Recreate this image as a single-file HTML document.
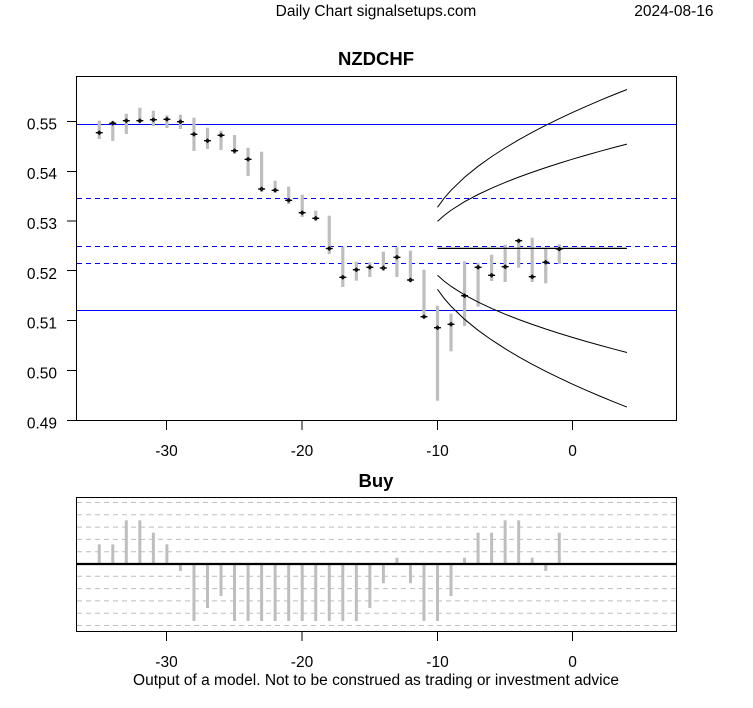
<!DOCTYPE html>
<html><head><meta charset="utf-8"><style>
html,body{margin:0;padding:0;background:#fff;}
svg{display:block;}
text{font-family:"Liberation Sans",Arial,sans-serif;fill:#000;}
</style></head><body>
<svg width="753" height="708" viewBox="0 0 753 708" xmlns="http://www.w3.org/2000/svg">
<defs>
<g id="m"><path d="M-3.5,0H3.5" stroke="#000" stroke-width="1.3"/><path d="M-1.8,0L0,-1.8L1.8,0L0,1.8Z" fill="none" stroke="#000" stroke-width="1"/></g>
</defs>
<rect width="753" height="708" fill="#fff"/>
<!-- header -->
<text x="376" y="16" font-size="15.5" text-anchor="middle">Daily Chart signalsetups.com</text>
<text x="713.5" y="16" font-size="15.5" text-anchor="end">2024-08-16</text>
<text x="376" y="65" font-size="18.5" font-weight="bold" text-anchor="middle">NZDCHF</text>

<!-- top chart reference lines -->
<g stroke="#0000ff" stroke-width="1" fill="none">
<line x1="77" y1="124.5" x2="676" y2="124.5"/>
<line x1="77" y1="310.5" x2="676" y2="310.5"/>
<line x1="77" y1="198.5" x2="676" y2="198.5" stroke-dasharray="5,4"/>
<line x1="77" y1="246.5" x2="676" y2="246.5" stroke-dasharray="5,4"/>
<line x1="77" y1="263.5" x2="676" y2="263.5" stroke-dasharray="5,4"/>
</g>

<!-- candles -->
<g stroke="#bebebe" stroke-width="3.2">
<line x1="99.25" y1="120.7" x2="99.25" y2="139"/>
<line x1="112.78" y1="120.7" x2="112.78" y2="141"/>
<line x1="126.31" y1="113.7" x2="126.31" y2="134"/>
<line x1="139.84" y1="107.7" x2="139.84" y2="123.3"/>
<line x1="153.37" y1="110.7" x2="153.37" y2="126"/>
<line x1="166.9" y1="115.3" x2="166.9" y2="128"/>
<line x1="180.43" y1="114.7" x2="180.43" y2="129"/>
<line x1="193.96" y1="117.7" x2="193.96" y2="151"/>
<line x1="207.49" y1="127.7" x2="207.49" y2="149"/>
<line x1="221.02" y1="130.7" x2="221.02" y2="150"/>
<line x1="234.55" y1="135" x2="234.55" y2="154"/>
<line x1="248.08" y1="147.7" x2="248.08" y2="176"/>
<line x1="261.61" y1="151.7" x2="261.61" y2="192"/>
<line x1="275.14" y1="180.7" x2="275.14" y2="192.7"/>
<line x1="288.67" y1="186.7" x2="288.67" y2="204"/>
<line x1="302.2" y1="194.7" x2="302.2" y2="217"/>
<line x1="315.73" y1="210.7" x2="315.73" y2="221"/>
<line x1="329.26" y1="215.7" x2="329.26" y2="254"/>
<line x1="342.79" y1="246.7" x2="342.79" y2="287"/>
<line x1="356.32" y1="261.7" x2="356.32" y2="280.7"/>
<line x1="369.85" y1="262.3" x2="369.85" y2="277"/>
<line x1="383.38" y1="251.7" x2="383.38" y2="271"/>
<line x1="396.91" y1="247.3" x2="396.91" y2="277"/>
<line x1="410.44" y1="250.7" x2="410.44" y2="282.3"/>
<line x1="423.97" y1="269.7" x2="423.97" y2="318.3"/>
<line x1="437.5" y1="305.7" x2="437.5" y2="400.7"/>
<line x1="451.03" y1="313.7" x2="451.03" y2="351.3"/>
<line x1="464.56" y1="261.3" x2="464.56" y2="326"/>
<line x1="478.09" y1="262.7" x2="478.09" y2="306.7"/>
<line x1="491.62" y1="254.7" x2="491.62" y2="281"/>
<line x1="505.15" y1="244.7" x2="505.15" y2="282"/>
<line x1="518.68" y1="240" x2="518.68" y2="267.7"/>
<line x1="532.21" y1="237.7" x2="532.21" y2="282"/>
<line x1="545.74" y1="248" x2="545.74" y2="283.3"/>
<line x1="559.27" y1="244.3" x2="559.27" y2="264"/>
</g>

<!-- markers -->
<g>
<use href="#m" x="99.25" y="132.7"/>
<use href="#m" x="112.78" y="123.3"/>
<use href="#m" x="126.31" y="120.7"/>
<use href="#m" x="139.84" y="120.7"/>
<use href="#m" x="153.37" y="119.7"/>
<use href="#m" x="166.9" y="119.3"/>
<use href="#m" x="180.43" y="121.7"/>
<use href="#m" x="193.96" y="134.3"/>
<use href="#m" x="207.49" y="140.7"/>
<use href="#m" x="221.02" y="135.3"/>
<use href="#m" x="234.55" y="150.7"/>
<use href="#m" x="248.08" y="159.3"/>
<use href="#m" x="261.61" y="189"/>
<use href="#m" x="275.14" y="190.3"/>
<use href="#m" x="288.67" y="200.3"/>
<use href="#m" x="302.2" y="212.7"/>
<use href="#m" x="315.73" y="218.3"/>
<use href="#m" x="329.26" y="248.5"/>
<use href="#m" x="342.79" y="277.3"/>
<use href="#m" x="356.32" y="269.7"/>
<use href="#m" x="369.85" y="267.3"/>
<use href="#m" x="383.38" y="268"/>
<use href="#m" x="396.91" y="257.3"/>
<use href="#m" x="410.44" y="280"/>
<use href="#m" x="423.97" y="316.7"/>
<use href="#m" x="437.5" y="327.7"/>
<use href="#m" x="451.03" y="324.3"/>
<use href="#m" x="464.56" y="295.7"/>
<use href="#m" x="478.09" y="267.3"/>
<use href="#m" x="491.62" y="275.3"/>
<use href="#m" x="505.15" y="266.7"/>
<use href="#m" x="518.68" y="240.7"/>
<use href="#m" x="532.21" y="276.7"/>
<use href="#m" x="545.74" y="262.3"/>
<use href="#m" x="559.27" y="249"/>
</g>

<!-- forecast -->
<line x1="437.5" y1="248.4" x2="626.9" y2="248.4" stroke="#000" stroke-width="1.3"/>
<g fill="none" stroke="#000" stroke-width="1">
<polyline points="437.5,207.3 444.27,198.09 451.03,190.32 464.56,177.28 478.09,166.3 491.62,156.62 505.15,147.87 518.68,139.82 532.21,132.34 545.74,125.3 559.27,118.65 572.8,112.32 586.33,106.27 599.86,100.47 613.39,94.89 626.92,89.51"/>
<polyline points="437.5,221.4 444.27,215.35 451.03,210.26 464.56,201.71 478.09,194.5 491.62,188.15 505.15,182.41 518.68,177.13 532.21,172.22 545.74,167.6 559.27,163.23 572.8,159.08 586.33,155.12 599.86,151.31 613.39,147.65 626.92,144.12"/>
<polyline points="437.5,275.2 444.27,281.25 451.03,286.34 464.56,294.89 478.09,302.1 491.62,308.45 505.15,314.19 518.68,319.47 532.21,324.38 545.74,329.0 559.27,333.37 572.8,337.52 586.33,341.48 599.86,345.29 613.39,348.95 626.92,352.48"/>
<polyline points="437.5,289.3 444.27,298.51 451.03,306.28 464.56,319.32 478.09,330.3 491.62,339.98 505.15,348.73 518.68,356.78 532.21,364.26 545.74,371.3 559.27,377.95 572.8,384.28 586.33,390.33 599.86,396.13 613.39,401.71 626.92,407.09"/>
</g>

<!-- top box & axes -->
<rect x="76.5" y="76.5" width="600" height="344" fill="none" stroke="#000" stroke-width="1"/>
<g stroke="#000" stroke-width="1">
<line x1="67" y1="121.5" x2="76" y2="121.5"/>
<line x1="67" y1="171.5" x2="76" y2="171.5"/>
<line x1="67" y1="221" x2="76" y2="221"/>
<line x1="67" y1="270.5" x2="76" y2="270.5"/>
<line x1="67" y1="320.5" x2="76" y2="320.5"/>
<line x1="67" y1="370.5" x2="76" y2="370.5"/>
<line x1="67" y1="420.5" x2="76" y2="420.5"/>
<line x1="166.5" y1="420" x2="166.5" y2="430"/>
<line x1="302" y1="420" x2="302" y2="430"/>
<line x1="437.5" y1="420" x2="437.5" y2="430"/>
<line x1="572.5" y1="420" x2="572.5" y2="430"/>
</g>
<g font-size="15.5" text-anchor="end">
<text x="57" y="129.3">0.55</text>
<text x="57" y="179.2">0.54</text>
<text x="57" y="229">0.53</text>
<text x="57" y="278.9">0.52</text>
<text x="57" y="328.7">0.51</text>
<text x="57" y="378.6">0.50</text>
<text x="57" y="428.4">0.49</text>
</g>
<g font-size="15.5" text-anchor="middle">
<text x="166.5" y="456">-30</text>
<text x="302" y="456">-20</text>
<text x="437.5" y="456">-10</text>
<text x="572.5" y="456">0</text>
</g>

<!-- bottom chart -->
<text x="376" y="487" font-size="18.5" font-weight="bold" text-anchor="middle">Buy</text>
<g stroke="#bebebe" stroke-width="1" stroke-dasharray="5,4">
<line x1="77" y1="502.5" x2="676" y2="502.5"/>
<line x1="77" y1="514.8" x2="676" y2="514.8"/>
<line x1="77" y1="527.1" x2="676" y2="527.1"/>
<line x1="77" y1="539.4" x2="676" y2="539.4"/>
<line x1="77" y1="551.7" x2="676" y2="551.7"/>
<line x1="77" y1="576.3" x2="676" y2="576.3"/>
<line x1="77" y1="588.6" x2="676" y2="588.6"/>
<line x1="77" y1="600.9" x2="676" y2="600.9"/>
<line x1="77" y1="613.2" x2="676" y2="613.2"/>
<line x1="77" y1="625.5" x2="676" y2="625.5"/>
</g>
<g stroke="#bebebe" stroke-width="3">
<line x1="99.25" y1="564" x2="99.25" y2="544.3"/>
<line x1="112.78" y1="564" x2="112.78" y2="544.3"/>
<line x1="126.31" y1="564" x2="126.31" y2="520.3"/>
<line x1="139.84" y1="564" x2="139.84" y2="520.3"/>
<line x1="153.37" y1="564" x2="153.37" y2="532.7"/>
<line x1="166.9" y1="564" x2="166.9" y2="544.3"/>
<line x1="180.43" y1="564" x2="180.43" y2="571"/>
<line x1="193.96" y1="564" x2="193.96" y2="621"/>
<line x1="207.49" y1="564" x2="207.49" y2="608"/>
<line x1="221.02" y1="564" x2="221.02" y2="596"/>
<line x1="234.55" y1="564" x2="234.55" y2="621"/>
<line x1="248.08" y1="564" x2="248.08" y2="621"/>
<line x1="261.61" y1="564" x2="261.61" y2="621"/>
<line x1="275.14" y1="564" x2="275.14" y2="621"/>
<line x1="288.67" y1="564" x2="288.67" y2="621"/>
<line x1="302.2" y1="564" x2="302.2" y2="621"/>
<line x1="315.73" y1="564" x2="315.73" y2="621"/>
<line x1="329.26" y1="564" x2="329.26" y2="621"/>
<line x1="342.79" y1="564" x2="342.79" y2="621"/>
<line x1="356.32" y1="564" x2="356.32" y2="621"/>
<line x1="369.85" y1="564" x2="369.85" y2="608"/>
<line x1="383.38" y1="564" x2="383.38" y2="583.3"/>
<line x1="396.91" y1="564" x2="396.91" y2="557.7"/>
<line x1="410.44" y1="564" x2="410.44" y2="583.3"/>
<line x1="423.97" y1="564" x2="423.97" y2="621"/>
<line x1="437.5" y1="564" x2="437.5" y2="621"/>
<line x1="451.03" y1="564" x2="451.03" y2="596"/>
<line x1="464.56" y1="564" x2="464.56" y2="557.7"/>
<line x1="478.09" y1="564" x2="478.09" y2="532.7"/>
<line x1="491.62" y1="564" x2="491.62" y2="532.7"/>
<line x1="505.15" y1="564" x2="505.15" y2="520.3"/>
<line x1="518.68" y1="564" x2="518.68" y2="520.3"/>
<line x1="532.21" y1="564" x2="532.21" y2="557.7"/>
<line x1="545.74" y1="564" x2="545.74" y2="571"/>
<line x1="559.27" y1="564" x2="559.27" y2="532.7"/>
</g>
<line x1="76" y1="564" x2="677" y2="564" stroke="#000" stroke-width="2.2"/>
<rect x="76.5" y="497.5" width="600" height="134" fill="none" stroke="#000" stroke-width="1"/>
<g stroke="#000" stroke-width="1">
<line x1="166.5" y1="631" x2="166.5" y2="641"/>
<line x1="302" y1="631" x2="302" y2="641"/>
<line x1="437.5" y1="631" x2="437.5" y2="641"/>
<line x1="572.5" y1="631" x2="572.5" y2="641"/>
</g>
<g font-size="15.5" text-anchor="middle">
<text x="166.5" y="667">-30</text>
<text x="302" y="667">-20</text>
<text x="437.5" y="667">-10</text>
<text x="572.5" y="667">0</text>
</g>
<text x="376" y="685" font-size="15.5" text-anchor="middle">Output of a model. Not to be construed as trading or investment advice</text>
</svg>
</body></html>
